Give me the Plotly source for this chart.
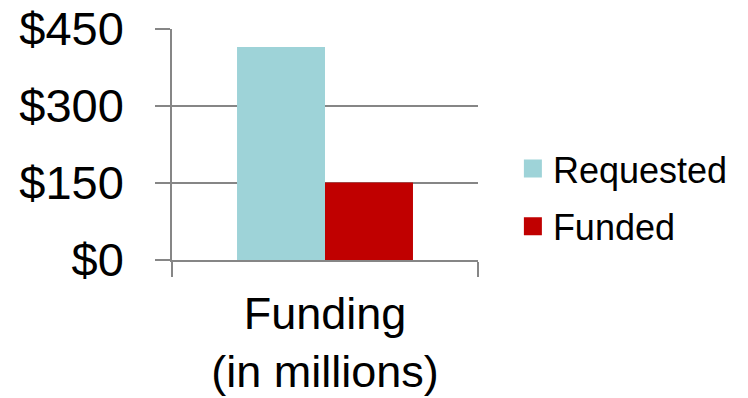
import plotly.graph_objects as go

categories = ["Funding<br>(in millions)"]
series_names = ["Requested", "Funded"]
requested = [415]
funded = [151]
colors = ["#9ED3D8", "#C00000"]
y_ticks = [0, 150, 300, 450]
y_tick_labels = ["$0", "$150", "$300", "$450"]

FONT = "Liberation Sans, Arial, sans-serif"
GRID = "#868686"

fig = go.Figure()
for name, vals, col in zip(series_names, [requested, funded], colors):
    fig.add_trace(go.Bar(x=categories, y=vals, name=name, marker=dict(color=col, line=dict(width=0)),
                         showlegend=False))
    fig.add_trace(go.Scatter(x=[None], y=[None], mode="markers", name=name, legendgroup=name,
                             marker=dict(symbol="square", size=16, color=col, line=dict(color=col, width=2))))

fig.update_layout(
    width=748, height=398,
    margin=dict(l=172, r=270, t=29, b=138, autoexpand=False),
    paper_bgcolor="white", plot_bgcolor="white",
    barmode="group", bargap=0.425, bargroupgap=0,
    font=dict(family=FONT, color="black"),
    legend=dict(x=1.114, xanchor="left", y=0.27, yanchor="middle",
                font=dict(size=36, family=FONT, color="black"),
                itemwidth=30, tracegroupgap=8, traceorder="grouped", bgcolor="rgba(0,0,0,0)"),
)
fig.update_yaxes(range=[0, 450], tickvals=y_ticks, ticktext=y_tick_labels, automargin=False,
                 showgrid=True, gridcolor=GRID, gridwidth=1.5,
                 zeroline=False, showline=True, linecolor=GRID, linewidth=1.5,
                 ticks="outside", ticklen=15, tickcolor=GRID, tickwidth=1.5,
                 tickfont=dict(size=47, family=FONT, color="black"),
                 ticklabelstandoff=22)
fig.update_xaxes(type="category", showline=True, linecolor=GRID, linewidth=1.5, automargin=False,
                 ticks="outside", tickson="boundaries", ticklen=15, tickcolor=GRID, tickwidth=1.5,
                 tickfont=dict(size=45, family=FONT, color="black"),
                 showgrid=False, ticklabelstandoff=13)

fig.write_html("out.html")
